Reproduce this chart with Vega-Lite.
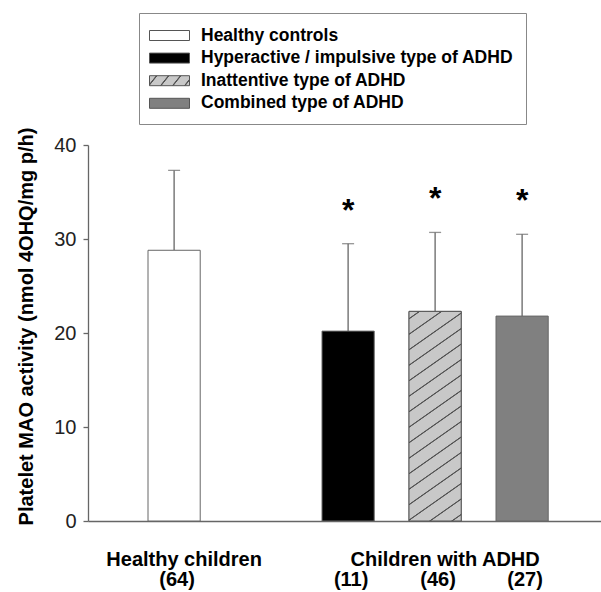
{
  "$schema": "https://vega.github.io/schema/vega-lite/v6.json",
  "width": 513,
  "height": 376,
  "autosize": "none",
  "padding": {"left": 88, "top": 145, "right": 0, "bottom": 71},
  "config": {
    "font": "Liberation Sans",
    "view": {"stroke": null},
    "axis": {"grid": false},
    "axisX": {"domainColor": "#666", "domainWidth": 1.3, "ticks": false, "labelAngle": 0, "labelOverlap": false, "labelFlush": false, "labelLimit": 400, "labelFontSize": 20, "labelFontWeight": "bold", "labelColor": "black"},
    "axisY": {"labelFontSize": 20, "labelColor": "#222", "tickSize": 5, "labelPadding": 7, "domainColor": "#666", "tickColor": "#666", "domainWidth": 1.3, "tickWidth": 1.3, "tickCount": 5, "titleFontSize": 20, "titleFontWeight": "bold", "titleColor": "black", "titleX": -52, "titleY": 181}
  },
  "data": {"values": [
    {"group": "Healthy controls", "mean": 28.8, "upper": 37.3, "sig": ""},
    {"group": "Hyperactive / impulsive type of ADHD", "mean": 20.2, "upper": 29.5, "sig": "*"},
    {"group": "Inattentive type of ADHD", "mean": 22.3, "upper": 30.7, "sig": "*"},
    {"group": "Combined type of ADHD", "mean": 21.8, "upper": 30.5, "sig": "*"}
  ]},
  "layer": [
    {
      "mark": {"type": "rule", "color": "#666", "strokeWidth": 1.3},
      "encoding": {
        "x": {"field": "group", "type": "nominal", "title": null,
          "scale": {"domain": ["Healthy controls", "gap", "Hyperactive / impulsive type of ADHD", "Inattentive type of ADHD", "Combined type of ADHD"], "paddingInner": 0.4, "paddingOuter": 0.6483, "align": 0.532},
          "axis": {"orient": "bottom", "domain": false, "labelPadding": 28, "labelOffset": 10, "labelExpr": "datum.value == 'Healthy controls' ? 'Healthy children' : (datum.value == 'Inattentive type of ADHD' ? 'Children with ADHD' : '')"}},
        "y": {"field": "mean", "type": "quantitative", "title": "Platelet MAO activity (nmol 4OHQ/mg p/h)", "scale": {"domain": [0, 40]}},
        "y2": {"field": "upper"}
      }
    },
    {
      "mark": {"type": "tick", "orient": "horizontal", "size": 12, "thickness": 1.3, "color": "#666"},
      "encoding": {
        "x": {"field": "group", "type": "nominal", "title": null, "axis": null},
        "y": {"field": "upper", "type": "quantitative", "title": "Platelet MAO activity (nmol 4OHQ/mg p/h)"}
      }
    },
    {
      "mark": {"type": "bar", "stroke": "#666", "strokeWidth": 1},
      "encoding": {
        "x": {"field": "group", "type": "nominal", "title": null,
          "axis": {"orient": "bottom", "labelPadding": 48, "labelOffset": 3, "labelExpr": "datum.value == 'Healthy controls' ? '(64)' : datum.value == 'Hyperactive / impulsive type of ADHD' ? '(11)' : datum.value == 'Inattentive type of ADHD' ? '(46)' : datum.value == 'Combined type of ADHD' ? '(27)' : ''"}},
        "y": {"field": "mean", "type": "quantitative", "title": "Platelet MAO activity (nmol 4OHQ/mg p/h)"},
        "fill": {"field": "group", "type": "nominal",
          "scale": {"domain": ["Healthy controls", "Hyperactive / impulsive type of ADHD", "Inattentive type of ADHD", "Combined type of ADHD"], "range": ["white", "black",
            {"expr": "{gradient: 'linear', x1: 0, y1: 0, x2: 1.1538, y2: 0.2308, stops: [{offset: 0, color: '#c8c8c8'}, {offset: 0.125, color: '#c8c8c8'}, {offset: 0.14, color: '#555'}, {offset: 0.16, color: '#555'}, {offset: 0.175, color: '#c8c8c8'}, {offset: 0.375, color: '#c8c8c8'}, {offset: 0.39, color: '#555'}, {offset: 0.41, color: '#555'}, {offset: 0.425, color: '#c8c8c8'}, {offset: 0.625, color: '#c8c8c8'}, {offset: 0.64, color: '#555'}, {offset: 0.66, color: '#555'}, {offset: 0.675, color: '#c8c8c8'}, {offset: 0.875, color: '#c8c8c8'}, {offset: 0.89, color: '#555'}, {offset: 0.91, color: '#555'}, {offset: 0.925, color: '#c8c8c8'}, {offset: 1, color: '#c8c8c8'}]}"},
            "#808080"]},
          "legend": {"orient": "none", "legendX": 51, "legendY": -132, "title": null, "direction": "vertical",
            "symbolType": "M-1.2,-0.5H2.8V0.5H-1.2Z", "symbolSize": 400, "symbolStrokeColor": "#555", "symbolStrokeWidth": 1,
            "labelFontSize": 17.5, "labelFontWeight": "bold", "labelColor": "black", "labelOffset": 29, "labelLimit": 500,
            "rowPadding": 3.6, "padding": 12, "strokeColor": "#888", "fillColor": "white"
          }
        }
      }
    },
    {
      "transform": [{"filter": "datum.group === 'Inattentive type of ADHD'"}],
      "mark": {"type": "bar", "stroke": "#555", "strokeWidth": 1,
        "fill": {"gradient": "linear", "x1": 0, "y1": 0, "x2": 0.1996, "y2": 1.1401, "stops": [
          {"offset": 0, "color": "#c8c8c8"},
          {"offset": 0.0255, "color": "#c8c8c8"}, {"offset": 0.0285, "color": "#555"}, {"offset": 0.0315, "color": "#555"}, {"offset": 0.0345, "color": "#c8c8c8"},
          {"offset": 0.0884, "color": "#c8c8c8"}, {"offset": 0.0914, "color": "#555"}, {"offset": 0.0944, "color": "#555"}, {"offset": 0.0974, "color": "#c8c8c8"},
          {"offset": 0.1513, "color": "#c8c8c8"}, {"offset": 0.1543, "color": "#555"}, {"offset": 0.1573, "color": "#555"}, {"offset": 0.1603, "color": "#c8c8c8"},
          {"offset": 0.2142, "color": "#c8c8c8"}, {"offset": 0.2172, "color": "#555"}, {"offset": 0.2202, "color": "#555"}, {"offset": 0.2232, "color": "#c8c8c8"},
          {"offset": 0.2771, "color": "#c8c8c8"}, {"offset": 0.2801, "color": "#555"}, {"offset": 0.2831, "color": "#555"}, {"offset": 0.2861, "color": "#c8c8c8"},
          {"offset": 0.34, "color": "#c8c8c8"}, {"offset": 0.343, "color": "#555"}, {"offset": 0.346, "color": "#555"}, {"offset": 0.349, "color": "#c8c8c8"},
          {"offset": 0.4029, "color": "#c8c8c8"}, {"offset": 0.4059, "color": "#555"}, {"offset": 0.4089, "color": "#555"}, {"offset": 0.4119, "color": "#c8c8c8"},
          {"offset": 0.4658, "color": "#c8c8c8"}, {"offset": 0.4688, "color": "#555"}, {"offset": 0.4718, "color": "#555"}, {"offset": 0.4748, "color": "#c8c8c8"},
          {"offset": 0.5287, "color": "#c8c8c8"}, {"offset": 0.5317, "color": "#555"}, {"offset": 0.5347, "color": "#555"}, {"offset": 0.5377, "color": "#c8c8c8"},
          {"offset": 0.5916, "color": "#c8c8c8"}, {"offset": 0.5946, "color": "#555"}, {"offset": 0.5976, "color": "#555"}, {"offset": 0.6006, "color": "#c8c8c8"},
          {"offset": 0.6545, "color": "#c8c8c8"}, {"offset": 0.6575, "color": "#555"}, {"offset": 0.6605, "color": "#555"}, {"offset": 0.6635, "color": "#c8c8c8"},
          {"offset": 0.7174, "color": "#c8c8c8"}, {"offset": 0.7204, "color": "#555"}, {"offset": 0.7234, "color": "#555"}, {"offset": 0.7264, "color": "#c8c8c8"},
          {"offset": 0.7803, "color": "#c8c8c8"}, {"offset": 0.7833, "color": "#555"}, {"offset": 0.7863, "color": "#555"}, {"offset": 0.7893, "color": "#c8c8c8"},
          {"offset": 0.8432, "color": "#c8c8c8"}, {"offset": 0.8462, "color": "#555"}, {"offset": 0.8492, "color": "#555"}, {"offset": 0.8522, "color": "#c8c8c8"},
          {"offset": 0.9061, "color": "#c8c8c8"}, {"offset": 0.9091, "color": "#555"}, {"offset": 0.9121, "color": "#555"}, {"offset": 0.9151, "color": "#c8c8c8"},
          {"offset": 0.969, "color": "#c8c8c8"}, {"offset": 0.972, "color": "#555"}, {"offset": 0.975, "color": "#555"}, {"offset": 0.978, "color": "#c8c8c8"},
          {"offset": 1, "color": "#c8c8c8"}
        ]}},
      "encoding": {
        "x": {"field": "group", "type": "nominal", "title": null, "axis": null},
        "y": {"field": "mean", "type": "quantitative", "title": "Platelet MAO activity (nmol 4OHQ/mg p/h)"}
      }
    },
    {
      "mark": {"type": "text", "fontSize": 32, "fontWeight": "bold", "color": "black", "baseline": "alphabetic", "align": "center", "dy": -23},
      "encoding": {
        "x": {"field": "group", "type": "nominal", "title": null, "axis": null},
        "y": {"field": "upper", "type": "quantitative", "title": "Platelet MAO activity (nmol 4OHQ/mg p/h)"},
        "text": {"field": "sig"}
      }
    }
  ],
  "resolve": {"axis": {"x": "independent"}}
}
